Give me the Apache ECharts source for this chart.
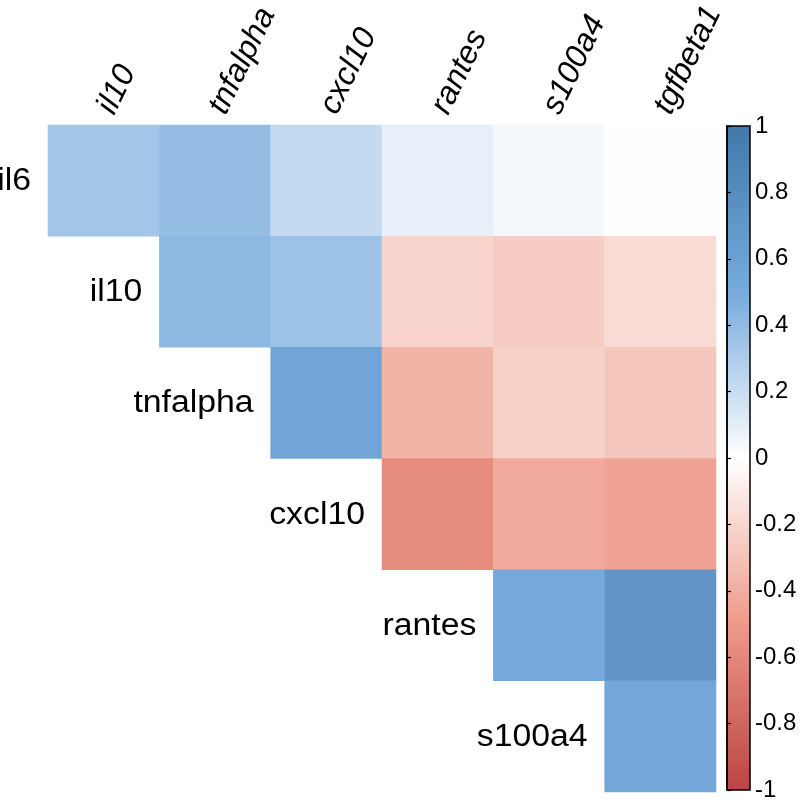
<!DOCTYPE html>
<html><head><meta charset="utf-8">
<script src="https://cdn.jsdelivr.net/npm/echarts@6/dist/echarts.min.js"></script>
<style>html,body{margin:0;padding:0;background:#fff}#chart{width:800px;height:811px}</style>
</head><body><div id="chart"></div>
<script>
const colNames = ['il10', 'tnfalpha', 'cxcl10', 'rantes', 's100a4', 'tgfbeta1'];
const rowNames = ['il6', 'il10', 'tnfalpha', 'cxcl10', 'rantes', 's100a4'];
// correlation values per row (null = not shown, lower triangle)
const il6Vals      = [0.34, 0.39, 0.22, 0.09, 0.04, -0.01];
const il10Vals     = [null, 0.42, 0.36, -0.21, -0.25, -0.18];
const tnfalphaVals = [null, null, 0.56, -0.37, -0.23, -0.28];
const cxcl10Vals   = [null, null, null, -0.57, -0.42, -0.45];
const rantesVals   = [null, null, null, null, 0.52, 0.72];
const s100a4Vals   = [null, null, null, null, null, 0.54];
const colorbarTicks = [1, 0.8, 0.6, 0.4, 0.2, 0, -0.2, -0.4, -0.6, -0.8, -1];

const rows = [il6Vals, il10Vals, tnfalphaVals, cxcl10Vals, rantesVals, s100a4Vals];
const heatData = [];
rows.forEach((vals, r) => vals.forEach((v, c) => { if (v !== null) heatData.push([c, r, v]); }));

const FONT = '"Liberation Sans", Arial, sans-serif';
const ROT = 64 * Math.PI / 180;
const chart = echarts.init(document.getElementById('chart'), null, {renderer: 'canvas'});
chart.setOption({
  backgroundColor: '#ffffff',
  animation: false,
  grid: [
    {left: 48, top: 125, width: 668, height: 667},
    {left: 727, top: 126, width: 23, height: 664, show: true, borderColor: '#000', borderWidth: 1.5, backgroundColor: 'transparent', z: 10}
  ],
  xAxis: [
    {type: 'category', gridIndex: 0, data: colNames, position: 'top', show: false},
    {type: 'value', gridIndex: 1, show: false, min: 0, max: 1}
  ],
  yAxis: [
    {type: 'category', gridIndex: 0, data: rowNames, inverse: true, show: false},
    {type: 'value', gridIndex: 1, position: 'right', min: -1, max: 1, interval: 0.2, z: 10,
     axisLine: {show: true, lineStyle: {color: '#000', width: 1.5}},
     axisTick: {show: true, inside: false, length: 4, lineStyle: {color: '#000', width: 1.2}},
     splitLine: {show: false},
     axisLabel: {margin: 5, fontSize: 24, color: '#000', fontFamily: FONT,
       formatter: v => String(+(+v).toFixed(1))}}
  ],
  visualMap: {
    type: 'continuous', min: -1, max: 1, seriesIndex: 0, show: true,
    orient: 'vertical', left: 727, top: 126, itemWidth: 23, itemHeight: 664,
    padding: 0, text: ['', ''], calculable: false, hoverLink: false, realtime: false,
    inRange: {color: ['#BB4444', '#EE9988', '#FFFFFF', '#77AADD', '#4477AA']}
  },
  series: [
    {type: 'heatmap', xAxisIndex: 0, yAxisIndex: 0, data: heatData,
     itemStyle: {borderWidth: 0}, emphasis: {disabled: true}, silent: true},
    // row labels, placed left of the first cell of each row
    {type: 'custom', xAxisIndex: 0, yAxisIndex: 0, silent: true, z: 10, clip: false,
     data: rowNames.map((n, i) => [i, i]),
     renderItem: (params, api) => {
       const p = api.coord([api.value(0), api.value(1)]);
       const s = api.size([1, 1]);
       return {type: 'text', x: p[0] - s[0] / 2 - 17, y: p[1] + 1, scaleX: 1.09,
         style: {text: rowNames[params.dataIndex], textAlign: 'right', textVerticalAlign: 'middle',
           font: '31px ' + FONT, fill: '#000'}};
     }},
    // column labels, rotated above the top row
    {type: 'custom', xAxisIndex: 0, yAxisIndex: 0, silent: true, z: 10, clip: false,
     data: colNames.map((n, i) => [i, 0]),
     renderItem: (params, api) => {
       const p = api.coord([api.value(0), api.value(1)]);
       const s = api.size([1, 1]);
       return {type: 'text', x: p[0] - 12, y: p[1] - s[1] / 2 - 20, rotation: ROT,
         style: {text: colNames[params.dataIndex], align: 'left', verticalAlign: 'top',
           font: 'italic 32px ' + FONT, fill: '#000'}};
     }}
  ]
});
</script></body></html>
